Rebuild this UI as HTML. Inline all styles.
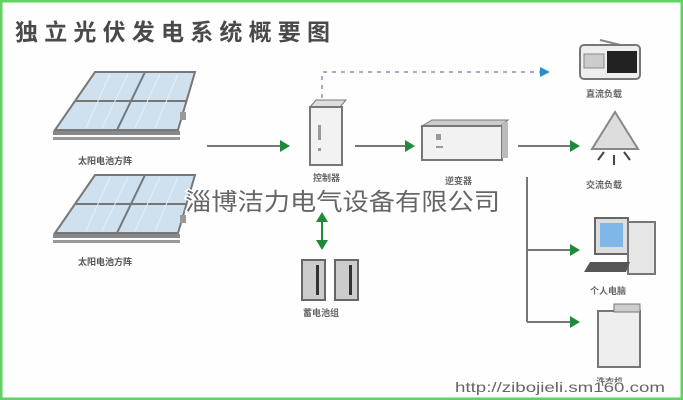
<!DOCTYPE html>
<html><head><meta charset="utf-8"><style>
html,body{margin:0;padding:0;background:#fff}
svg{display:block}
text{font-family:"Liberation Sans","Noto Sans CJK SC",sans-serif}
</style></head><body>
<svg width="683" height="400" viewBox="0 0 683 400" xmlns="http://www.w3.org/2000/svg">
<rect x="1" y="1" width="681" height="398" fill="#fdfefd" stroke="#5fd35f" stroke-width="3"/>
<text x="15" y="40" font-size="23" font-weight="bold" fill="#4a4a4a" textLength="315" lengthAdjust="spacing">独立光伏发电系统概要图</text>

<g id="p1">
<polygon points="95,72 195,72 178,130 55,130" fill="#cfe0ef" stroke="#777" stroke-width="2"/>
<line x1="145" y1="72" x2="117" y2="130" stroke="#777" stroke-width="2"/>
<line x1="76" y1="101" x2="187" y2="101" stroke="#777" stroke-width="2"/>
<g stroke="#e6eef6" stroke-width="1">
<line x1="110" y1="74" x2="86" y2="128"/><line x1="128" y1="74" x2="102" y2="128"/>
<line x1="160" y1="74" x2="135" y2="128"/><line x1="178" y1="74" x2="155" y2="128"/>
</g>
<rect x="53" y="131" width="127" height="4" fill="#888"/>
<rect x="53" y="137" width="127" height="3" fill="#999"/>
<rect x="180" y="112" width="6" height="8" fill="#999"/>
</g>
<use href="#p1" y="103"/>
<text x="78" y="164" font-size="9" font-weight="bold" fill="#555">太阳电池方阵</text>
<text x="78" y="265" font-size="9" font-weight="bold" fill="#555">太阳电池方阵</text>

<g stroke="#777" stroke-width="2">
<line x1="207" y1="146" x2="280" y2="146"/>
<line x1="355" y1="146" x2="405" y2="146"/>
<line x1="518" y1="146" x2="570" y2="146"/>
<line x1="527" y1="177" x2="527" y2="322"/>
<line x1="527" y1="250" x2="570" y2="250"/>
<line x1="527" y1="322" x2="570" y2="322"/>
</g>
<g fill="#1e8a3a">
<polygon points="280,140 290,146 280,152"/>
<polygon points="405,140 415,146 405,152"/>
<polygon points="570,140 580,146 570,152"/>
<polygon points="570,244 580,250 570,256"/>
<polygon points="570,316 580,322 570,328"/>
<polygon points="316,222 322,212 328,222"/>
<polygon points="316,240 322,250 328,240"/>
</g>
<line x1="322" y1="220" x2="322" y2="242" stroke="#1e8a3a" stroke-width="2"/>
<path d="M322,98 V72 H540" fill="none" stroke="#aab" stroke-width="2" stroke-dasharray="4,5"/>
<polygon points="540,67 550,72 540,77" fill="#2a8fc8"/>

<polygon points="310,107 316,100 346,100 340,107" fill="#ddd" stroke="#777"/>
<rect x="310" y="107" width="32" height="58" fill="#f2f2f2" stroke="#777" stroke-width="2"/>
<rect x="318" y="125" width="3" height="15" fill="#999"/>
<rect x="318" y="148" width="3" height="3" fill="#999"/>
<text x="313" y="181" font-size="9" font-weight="bold" fill="#666">控制器</text>

<polygon points="422,126 432,120 508,120 500,126" fill="#ccc" stroke="#777"/>
<rect x="422" y="126" width="80" height="34" fill="#f2f2f2" stroke="#777" stroke-width="2"/>
<rect x="502" y="122" width="6" height="36" fill="#bbb"/>
<rect x="436" y="134" width="5" height="6" fill="#999"/>
<rect x="436" y="146" width="7" height="2" fill="#999"/>
<text x="445" y="184" font-size="9" font-weight="bold" fill="#666">逆变器</text>

<line x1="600" y1="40" x2="633" y2="48" stroke="#888" stroke-width="2"/>
<rect x="580" y="45" width="60" height="34" rx="4" fill="#eee" stroke="#777" stroke-width="2"/>
<rect x="607" y="51" width="30" height="22" fill="#222"/>
<rect x="584" y="54" width="20" height="14" fill="#ccc" stroke="#888"/>
<text x="586" y="97" font-size="9" font-weight="bold" fill="#666">直流负载</text>

<polygon points="615,112 592,149 638,149" fill="#ddd" stroke="#888" stroke-width="2"/>
<g stroke="#444" stroke-width="2"><line x1="614" y1="155" x2="614" y2="165"/><line x1="604" y1="152" x2="598" y2="160"/><line x1="624" y1="152" x2="630" y2="160"/></g>
<text x="586" y="188" font-size="9" font-weight="bold" fill="#666">交流负载</text>

<rect x="595" y="218" width="33" height="36" fill="#ddd" stroke="#666" stroke-width="2"/>
<rect x="600" y="223" width="23" height="24" fill="#7fb8e8"/>
<rect x="628" y="222" width="27" height="52" fill="#e6e6e6" stroke="#777" stroke-width="2"/>
<polygon points="590,262 630,262 626,272 584,272" fill="#555"/>
<text x="590" y="294" font-size="9" font-weight="bold" fill="#666">个人电脑</text>

<rect x="598" y="311" width="42" height="56" fill="#eee" stroke="#777" stroke-width="2"/>
<rect x="614" y="304" width="26" height="8" fill="#ccc" stroke="#777"/>
<text x="596" y="385" font-size="9" font-weight="bold" fill="#666">洗衣机</text>

<g fill="#ccc" stroke="#666" stroke-width="2">
<rect x="302" y="260" width="23" height="40"/>
<rect x="335" y="260" width="23" height="40"/>
</g>
<g fill="#333"><rect x="316" y="265" width="3" height="30"/><rect x="349" y="265" width="3" height="30"/></g>
<text x="303" y="316" font-size="9" font-weight="bold" fill="#666">蓄电池组</text>

<text x="185" y="210" font-size="24" fill="#666" stroke="#fff" stroke-width="3" paint-order="stroke" textLength="315" lengthAdjust="spacingAndGlyphs" font-family="Liberation Serif,Noto Serif CJK SC,serif">淄博洁力电气设备有限公司</text>
<text x="455" y="392" font-size="14" fill="#666" stroke="#fff" stroke-width="2" paint-order="stroke" textLength="210" lengthAdjust="spacingAndGlyphs">http://zibojieli.sm160.com</text>
</svg>
</body></html>
